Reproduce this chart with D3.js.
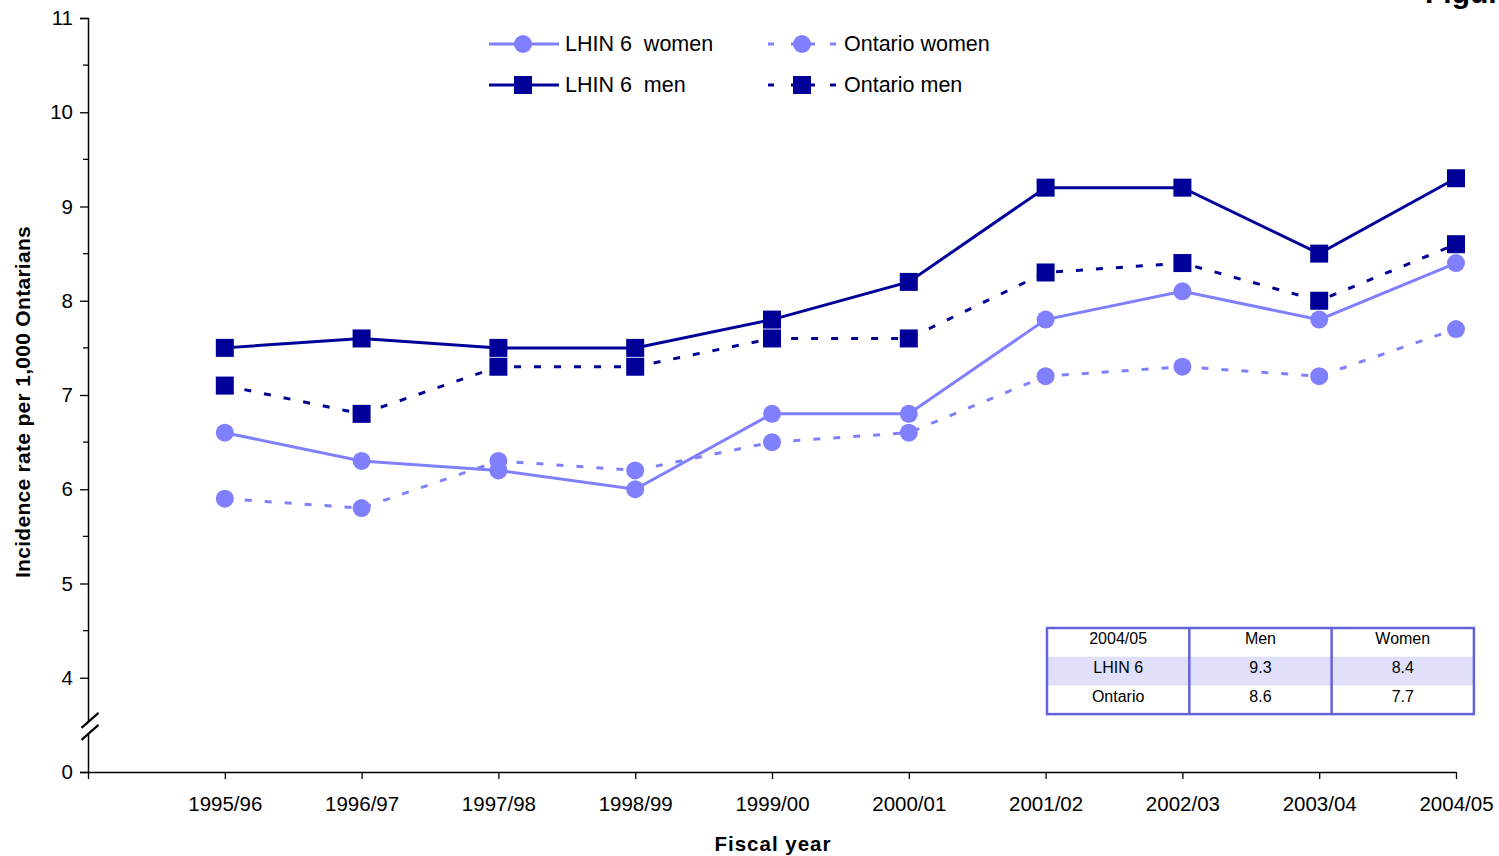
<!DOCTYPE html>
<html>
<head>
<meta charset="utf-8">
<script src="https://cdn.jsdelivr.net/npm/d3@7"></script>
<style>
  html, body { margin: 0; padding: 0; background: #fff; }
  svg { display: block; font-family: "Liberation Sans", Arial, sans-serif; }
</style>
</head>
<body>
<svg id="chart" width="1499" height="856"></svg>
<script>
// Fiscal years on the x axis
const years = ["1995/96", "1996/97", "1997/98", "1998/99", "1999/00",
               "2000/01", "2001/02", "2002/03", "2003/04", "2004/05"];

// Incidence rate per 1,000 Ontarians
const lhinWomen    = [6.6, 6.3, 6.2, 6.0, 6.8, 6.8, 7.8, 8.1, 7.8, 8.4];
const ontarioWomen = [5.9, 5.8, 6.3, 6.2, 6.5, 6.6, 7.2, 7.3, 7.2, 7.7];
const lhinMen      = [7.5, 7.6, 7.5, 7.5, 7.8, 8.2, 9.2, 9.2, 8.5, 9.3];
const ontarioMen   = [7.1, 6.8, 7.3, 7.3, 7.6, 7.6, 8.3, 8.4, 8.0, 8.6];

// y ticks: the bottom slot (value 3) is the broken axis, labelled 0
const yTicks = [3, 4, 5, 6, 7, 8, 9, 10, 11];
const yTickLabels = ["0", "4", "5", "6", "7", "8", "9", "10", "11"];
const yMinorTicks = [4.5, 5.5, 6.5, 7.5, 8.5, 9.5, 10.5];

// summary table
const tableHeader = ["2004/05", "Men", "Women"];
const tableRows = [
  ["LHIN 6", "9.3", "8.4"],
  ["Ontario", "8.6", "7.7"]
];

const NAVY = "#000099";
const LIGHT = "#8080ff";

const series = [
  { name: "LHIN 6  women", values: lhinWomen, color: LIGHT, dashed: false, shape: "circle" },
  { name: "Ontario women", values: ontarioWomen, color: LIGHT, dashed: true, shape: "circle" },
  { name: "LHIN 6  men", values: lhinMen, color: NAVY, dashed: false, shape: "square" },
  { name: "Ontario men", values: ontarioMen, color: NAVY, dashed: true, shape: "square" }
];

const svg = d3.select("#chart");

const x = d3.scaleLinear().domain([-1, years.length - 1]).range([88, 1456]);
const y = d3.scaleLinear().domain([3, 11]).range([772, 18]);

// y axis
const yAxis = d3.axisLeft(y)
  .tickValues(yTicks)
  .tickFormat((d, i) => yTickLabels[i])
  .tickSize(8)
  .tickPadding(7);
const gy = svg.append("g").attr("transform", "translate(88,0)").call(yAxis);
gy.select(".domain").attr("stroke", "#000").attr("stroke-width", 1.5);
gy.selectAll(".tick line").attr("stroke", "#000").attr("stroke-width", 1.3);
gy.selectAll(".tick text").attr("font-size", 20.5).attr("fill", "#000")
  .attr("font-family", "Liberation Sans, Arial, sans-serif");

// minor ticks
svg.append("g").selectAll("line").data(yMinorTicks).join("line")
  .attr("x1", 83).attr("x2", 88)
  .attr("y1", d => y(d)).attr("y2", d => y(d))
  .attr("stroke", "#000").attr("stroke-width", 1.3);

// axis break marks
const breakY = (y(3) + y(4)) / 2 + 1;
svg.append("path")
  .attr("d", `M81.5,${breakY + 2} L98.5,${breakY - 13} L98.5,${breakY - 1} L81.5,${breakY + 14} Z`)
  .attr("fill", "#fff");
[breakY + 2, breakY + 14].forEach(yy => {
  svg.append("line")
    .attr("x1", 81.5).attr("y1", yy)
    .attr("x2", 98.5).attr("y2", yy - 15)
    .attr("stroke", "#000").attr("stroke-width", 2.2);
});

// x axis
const xAxis = d3.axisBottom(x)
  .tickValues(d3.range(-1, years.length))
  .tickFormat(d => d < 0 ? "" : years[d])
  .tickSize(7)
  .tickSizeOuter(0)
  .tickPadding(17);
const gx = svg.append("g").attr("transform", `translate(0,${y(3)})`).call(xAxis);
gx.select(".domain").attr("stroke", "#000").attr("stroke-width", 1.5);
gx.selectAll(".tick line").attr("stroke", "#000").attr("stroke-width", 1.3);
gx.selectAll(".tick text").attr("font-size", 20.5).attr("fill", "#000")
  .attr("font-family", "Liberation Sans, Arial, sans-serif");

// axis titles
svg.append("text")
  .attr("x", 773).attr("y", 851)
  .attr("text-anchor", "middle")
  .attr("font-size", 20.5).attr("font-weight", "bold")
  .attr("letter-spacing", 1)
  .text("Fiscal year");

svg.append("text")
  .attr("transform", "translate(30,402) rotate(-90)")
  .attr("text-anchor", "middle")
  .attr("font-size", 21).attr("font-weight", "bold")
  .attr("letter-spacing", 0.3)
  .text("Incidence rate per 1,000 Ontarians");

// figure caption, running off the top-right edge
svg.append("text")
  .attr("x", 1425).attr("y", 3)
  .attr("font-size", 30).attr("font-weight", "bold")
  .text("Figure");

// lines and markers
const line = d3.line().x((d, i) => x(i)).y(d => y(d));

function drawMarker(g, shape, cx, cy, color) {
  if (shape === "circle") {
    g.append("circle").attr("cx", cx).attr("cy", cy).attr("r", 9).attr("fill", color);
  } else {
    g.append("rect").attr("x", cx - 9).attr("y", cy - 9)
      .attr("width", 18).attr("height", 18).attr("fill", color);
  }
}

// draw women first so the men's series sit on top
series.forEach(s => {
  const g = svg.append("g");
  g.append("path")
    .datum(s.values)
    .attr("d", line)
    .attr("fill", "none")
    .attr("stroke", s.color)
    .attr("stroke-width", 3)
    .attr("stroke-dasharray", s.dashed ? "7,13" : null);
  s.values.forEach((v, i) => drawMarker(g, s.shape, x(i), y(v), s.color));
});

// legend
const legendPos = [
  { lx: 489, ly: 44 }, { lx: 768, ly: 44 },
  { lx: 489, ly: 85 }, { lx: 768, ly: 85 }
];
series.forEach((s, i) => {
  const p = legendPos[i];
  const g = svg.append("g");
  if (s.dashed) {
    [[p.lx, p.lx + 6], [p.lx + 23, p.lx + 47], [p.lx + 62, p.lx + 68]].forEach(seg => {
      g.append("line").attr("x1", seg[0]).attr("x2", seg[1])
        .attr("y1", p.ly).attr("y2", p.ly)
        .attr("stroke", s.color).attr("stroke-width", 3);
    });
  } else {
    g.append("line").attr("x1", p.lx).attr("x2", p.lx + 70)
      .attr("y1", p.ly).attr("y2", p.ly)
      .attr("stroke", s.color).attr("stroke-width", 3);
  }
  drawMarker(g, s.shape, p.lx + 34, p.ly, s.color);
  g.append("text")
    .attr("x", p.lx + 76).attr("y", p.ly + 7)
    .attr("font-size", 21.5)
    .attr("xml:space", "preserve")
    .style("white-space", "pre")
    .text(s.name);
});

// summary table
const tX = 1047, tY = 628, colW = 142.3, rowH = 28.7;
const TBORDER = "#6363d9";
const table = svg.append("g");
table.append("rect")
  .attr("x", tX).attr("y", tY + rowH)
  .attr("width", colW * 3).attr("height", rowH)
  .attr("fill", "#e0e0fb");
const allRows = [tableHeader].concat(tableRows);
allRows.forEach((row, r) => {
  row.forEach((cell, c) => {
    table.append("text")
      .attr("x", tX + colW * c + colW / 2)
      .attr("y", tY + rowH * r + rowH / 2 + 2)
      .attr("text-anchor", "middle")
      .attr("font-size", 16)
      .text(cell);
  });
});
table.append("rect")
  .attr("x", tX).attr("y", tY)
  .attr("width", colW * 3).attr("height", rowH * 3)
  .attr("fill", "none").attr("stroke", TBORDER).attr("stroke-width", 2.5);
[1, 2].forEach(c => {
  table.append("line")
    .attr("x1", tX + colW * c).attr("x2", tX + colW * c)
    .attr("y1", tY).attr("y2", tY + rowH * 3)
    .attr("stroke", TBORDER).attr("stroke-width", 2.5);
});
</script>
</body>
</html>
